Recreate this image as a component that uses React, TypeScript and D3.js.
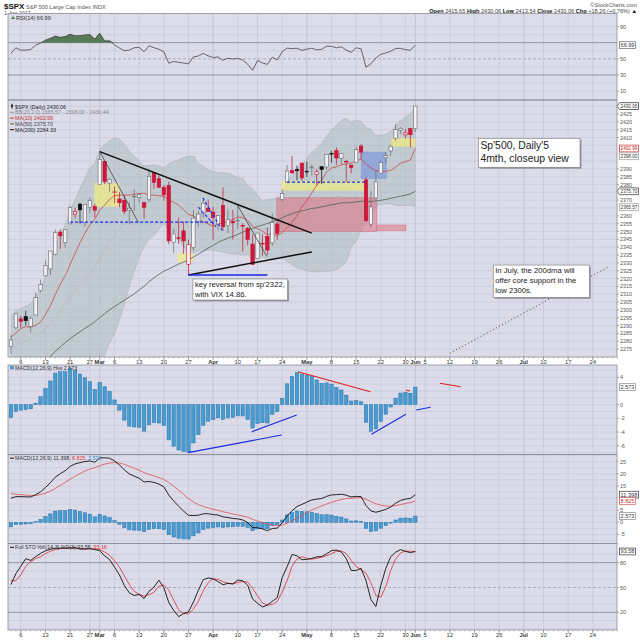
import React from "react";
import * as d3 from "d3";

// ---------------- DATA ----------------
// closes before the visible window (Nov 1 2016 .. Feb 1 2017), used for indicator warm-up
const priorCloses = [
  2111.72, 2097.94, 2088.66, 2085.18, 2131.52, 2139.56, 2163.26, 2167.48, 2164.45, 2164.2, 2180.39, 2176.94,
  2187.12, 2181.9, 2198.18, 2202.94, 2204.72, 2213.35, 2201.72, 2204.66, 2198.81,
  2191.08, 2191.95, 2204.71, 2212.23, 2241.35, 2246.19, 2259.53, 2256.96, 2271.72, 2253.28, 2262.03, 2258.07,
  2262.53, 2270.76, 2265.18, 2260.96, 2263.79, 2268.88, 2249.92, 2249.26, 2238.83,
  2257.83, 2270.75, 2269.0, 2276.98, 2268.9, 2268.9, 2275.32, 2270.44, 2274.64, 2267.89, 2271.89, 2263.69,
  2271.31, 2265.2, 2280.07, 2298.37, 2296.68, 2294.69, 2280.9, 2278.87,
  2279.55,
];
// highs / lows Jan 9 .. Feb 1 (stochastic warm-up)
const priorHighs = [2275.49, 2279.27, 2275.32, 2271.78, 2278.68, 2272.08, 2272.01, 2274.33, 2276.96, 2271.78, 2284.63, 2299.55, 2300.99, 2299.02, 2286.01, 2279.09, 2289.14];
const priorLows = [2268.9, 2265.27, 2260.83, 2254.25, 2271.51, 2262.81, 2263.35, 2258.41, 2265.01, 2257.02, 2266.68, 2288.88, 2294.08, 2291.62, 2268.04, 2267.21, 2272.44];

// visible sessions Feb 2 .. Jun 1 2017
const opens = [
  2276.69, 2288.54, 2294.28, 2295.87, 2289.55, 2296.7, 2312.27,
  2321.72, 2326.12, 2335.58, 2349.64, 2343.01,
  2354.91, 2361.11, 2367.5, 2355.73,
  2365.23, 2366.08, 2380.13, 2394.75, 2380.92,
  2375.23, 2370.74, 2369.81, 2363.49, 2372.52,
  2371.56, 2368.55, 2370.34, 2387.71, 2383.71,
  2378.24, 2379.32, 2343.0, 2345.97, 2350.42,
  2329.11, 2339.79, 2356.54, 2361.31, 2364.82,
  2362.34, 2354.76, 2366.59, 2353.79, 2356.59,
  2357.16, 2353.92, 2352.15, 2341.98,
  2332.62, 2342.53, 2346.79, 2342.69, 2354.74,
  2370.33, 2381.51, 2388.98, 2389.7, 2393.68,
  2388.5, 2391.05, 2386.5, 2391.36, 2391.19,
  2399.94, 2401.58, 2396.79, 2394.84, 2392.44,
  2393.98, 2404.55, 2382.95, 2354.69, 2371.37,
  2387.21, 2397.04, 2401.41, 2409.54, 2414.5,
  2411.67, 2415.63, 2415.65,
];
const highs = [
  2283.97, 2298.31, 2296.18, 2299.4, 2295.91, 2311.08, 2319.23,
  2331.58, 2337.58, 2351.3, 2351.31, 2351.16,
  2366.71, 2365.13, 2368.26, 2367.34,
  2371.54, 2367.79, 2400.98, 2394.75, 2383.89,
  2378.8, 2375.12, 2373.09, 2369.08, 2376.86,
  2374.42, 2368.55, 2390.01, 2388.1, 2385.71,
  2379.55, 2381.93, 2351.81, 2358.92, 2356.22,
  2344.9, 2363.78, 2363.36, 2370.42, 2370.35,
  2365.87, 2360.53, 2378.36, 2364.16, 2363.76,
  2366.37, 2355.22, 2352.72, 2348.26,
  2349.14, 2348.35, 2352.63, 2361.37, 2356.18,
  2376.98, 2392.48, 2398.16, 2392.1, 2393.68,
  2394.49, 2392.93, 2389.82, 2391.43, 2399.29,
  2401.36, 2403.87, 2399.74, 2395.72, 2392.44,
  2404.05, 2405.77, 2384.87, 2375.74, 2389.06,
  2395.46, 2400.85, 2405.58, 2418.71, 2416.68,
  2415.26, 2415.99, 2430.06,
];
const lows = [
  2271.65, 2287.88, 2288.57, 2290.16, 2285.38, 2296.61, 2311.1,
  2321.42, 2322.17, 2334.81, 2338.87, 2339.58,
  2354.91, 2358.34, 2355.09, 2352.87,
  2361.87, 2358.96, 2380.13, 2380.17, 2375.39,
  2367.98, 2365.51, 2361.01, 2354.54, 2363.04,
  2368.52, 2358.18, 2368.94, 2377.18, 2377.64,
  2369.66, 2341.9, 2336.45, 2342.13, 2335.74,
  2322.25, 2337.63, 2352.94, 2358.58, 2362.6,
  2344.73, 2350.72, 2350.52, 2348.9, 2344.9,
  2351.5, 2337.25, 2341.18, 2328.95,
  2332.51, 2334.54, 2335.05, 2340.91, 2344.51,
  2369.19, 2381.15, 2386.78, 2382.68, 2382.36,
  2384.83, 2385.82, 2379.75, 2380.35, 2389.51,
  2393.92, 2392.44, 2392.79, 2381.74, 2387.19,
  2393.94, 2396.05, 2356.21, 2352.72, 2370.43,
  2386.92, 2393.88, 2397.99, 2408.01, 2412.2,
  2409.43, 2403.59, 2413.54,
];
const closes = [
  2280.85, 2297.42, 2292.56, 2293.08, 2294.67, 2307.87, 2316.1,
  2328.25, 2337.58, 2349.25, 2347.22, 2351.16,
  2365.38, 2362.82, 2363.81, 2367.34,
  2369.75, 2363.64, 2395.96, 2381.92, 2383.12,
  2375.31, 2368.39, 2362.98, 2364.87, 2372.6,
  2373.47, 2365.45, 2385.26, 2381.38, 2378.25,
  2373.47, 2344.02, 2348.45, 2345.96, 2343.98,
  2341.59, 2358.57, 2361.13, 2368.06, 2362.72,
  2358.84, 2360.16, 2352.95, 2357.49, 2355.54,
  2357.16, 2353.78, 2344.93, 2328.95,
  2349.01, 2342.19, 2338.17, 2355.84, 2348.69,
  2374.15, 2388.61, 2387.45, 2388.77, 2384.2,
  2388.33, 2391.17, 2388.13, 2389.52, 2399.29,
  2399.38, 2396.92, 2399.63, 2394.44, 2390.9,
  2402.32, 2400.67, 2357.03, 2365.72, 2381.73,
  2394.02, 2398.42, 2404.39, 2415.07, 2415.82,
  2412.91, 2411.8, 2430.06,
];
const ma200Last = 2264.33;

// calendar
const firstSession = "2017-02-02";
const sessionCount = 124;
const holidays = ["2017-02-20", "2017-04-14", "2017-05-29", "2017-07-04"];
const tickDates = [
  "2017-02-06", "2017-02-13", "2017-02-21", "2017-02-27", "2017-03-01", "2017-03-06", "2017-03-13", "2017-03-20",
  "2017-03-27", "2017-04-03", "2017-04-10", "2017-04-17", "2017-04-24", "2017-05-01", "2017-05-08", "2017-05-15",
  "2017-05-22", "2017-05-30", "2017-06-01", "2017-06-05", "2017-06-12", "2017-06-19", "2017-06-26", "2017-07-03",
  "2017-07-10", "2017-07-17", "2017-07-24",
];
const monthStarts = ["2017-03-01", "2017-04-03", "2017-05-01", "2017-06-01", "2017-07-03"];
const monthNames = ["Jan", "Feb", "Mar", "Apr", "May", "Jun", "Jul", "Aug"];

// annotations (session index, price)
const boldTrendLines = [
  [18, 2400.98, 61, 2349.0],
  [36, 2322.25, 61, 2337.0],
];
const thinTrendLines = [
  [18, 2400.98, 25.8, 2356.0],
  [45.9, 2367.0, 51.9, 2334.0],
];
const blueSolidLines = [[36, 2322.25, 52, 2322.25]];
const blueDashedLines = [
  [12, 2356.0, 41, 2356.0],
  [56, 2381.5, 72, 2381.5],
  [38.9, 2371.5, 43, 2350.0],
  [38.0, 2365.5, 41.6, 2353.0],
];
const yellowBoxes = [
  [16.9, 22.0, 2380.8, 2365.8],
  [33.8, 37.0, 2336.1, 2330.4],
  [54.9, 72.0, 2382.4, 2376.1],
  [77.1, 82.0, 2409.5, 2404.1],
];
const pinkBoxes = [
  [53.9, 74.2, 2371.6, 2349.9],
  [74.2, 80.1, 2354.2, 2350.5],
];
const blueBoxes = [[71.0, 76.2, 2400.8, 2383.7]];
const projectionLine = [89.0, 2272.3, 121.0, 2327.2];
const noteA = ["Sp'500, Daily'5", "4mth, closeup view"];
const noteB = ["In July, the 200dma will", "offer core support in the", "low 2300s."];
const noteC = ["key reversal from sp'2322,", "with VIX 14.86."];
const noteBoxes = [
  { x0: 94.8, x1: 115.4, p0: 2409.5, p1: 2391.0, lines: noteA, size: 10.4, lh: 12.6 },
  { x0: 97.8, x1: 117.3, p0: 2328.6, p1: 2308.0, lines: noteB, size: 7.7, lh: 9.7 },
  { x0: 36.9, x1: 56.1, p0: 2319.7, p1: 2306.3, lines: noteC, size: 7.7, lh: 9.3 },
];
const histRedLines = [
  [58.2, 4.82, 72.9, 1.9],
  [80.1, 2.15, 80.9, 2.0],
  [87.0, 3.12, 91.2, 2.63],
];
const histBlueLines = [
  [35.9, -7.0, 54.9, -4.42],
  [48.85, -3.94, 57.96, -1.5],
  [73.1, -4.32, 80.1, -1.4],
  [82.2, -0.77, 85.1, -0.38],
];

// ---------------- LAYOUT ----------------
const PL = 8;
const PR = 617;
const FONT = "Liberation Sans, Arial, sans-serif";
const BG = "#DBDBE9";
const GRID = "#C6C6D8";
const panels = {
  rsi: [13.5, 100],
  main: [100, 357],
  hist: [365, 454.5],
  macd: [454.5, 543.5],
  sto: [543.5, 630],
};

// ---------------- INDICATORS ----------------
function emaCalc(src: number[], n: number) {
  const k = 2 / (n + 1);
  const out = new Array(src.length).fill(NaN);
  let prev = d3.mean(src.slice(0, n)) as number;
  out[n - 1] = prev;
  for (let i = n; i < src.length; i++) {
    prev = src[i] * k + prev * (1 - k);
    out[i] = prev;
  }
  return out;
}
function rsiCalc(src: number[], n: number) {
  const out = new Array(src.length).fill(NaN);
  let g = 0, l = 0;
  for (let i = 1; i <= n; i++) {
    const d = src[i] - src[i - 1];
    g += Math.max(d, 0);
    l += Math.max(-d, 0);
  }
  g /= n; l /= n;
  out[n] = 100 - 100 / (1 + g / l);
  for (let i = n + 1; i < src.length; i++) {
    const d = src[i] - src[i - 1];
    g = (g * (n - 1) + Math.max(d, 0)) / n;
    l = (l * (n - 1) + Math.max(-d, 0)) / n;
    out[i] = 100 - 100 / (1 + g / l);
  }
  return out;
}

const allC = [...priorCloses, ...closes];
const OFF = priorCloses.length;
const N = closes.length;
const idx = d3.range(N);
const ma10 = idx.map((i) => d3.mean(allC.slice(OFF + i - 9, OFF + i + 1)) as number);
const ma50 = idx.map((i) => d3.mean(allC.slice(OFF + i - 49, OFF + i + 1)) as number);
const bb = idx.map((i) => {
  const w = allC.slice(OFF + i - 19, OFF + i + 1);
  const m = d3.mean(w) as number;
  const sd = Math.sqrt(d3.mean(w.map((v) => (v - m) ** 2)) as number);
  return { m, up: m + 2 * sd, lo: m - 2 * sd };
});
const e12 = emaCalc(allC, 12);
const e26 = emaCalc(allC, 26);
const macdFull = allC.map((_, i) => e12[i] - e26[i]);
const sigPart = emaCalc(macdFull.slice(25), 9);
const sigFull = [...new Array(25).fill(NaN), ...sigPart];
const macd = idx.map((i) => macdFull[OFF + i]);
const signal = idx.map((i) => sigFull[OFF + i]);
const hist = idx.map((i) => macd[i] - signal[i]);
const rsiFull = rsiCalc(allC, 14);
const rsi = idx.map((i) => rsiFull[OFF + i]);

const HL = priorHighs.length;
const allH = [...priorHighs, ...highs];
const allL = [...priorLows, ...lows];
const allCH = allC.slice(OFF - HL);
const fastK = allH.map((_, j) => {
  if (j < 13) return NaN;
  const hh = d3.max(allH.slice(j - 13, j + 1)) as number;
  const ll = d3.min(allL.slice(j - 13, j + 1)) as number;
  return ((allCH[j] - ll) / (hh - ll)) * 100;
});
const fullK = fastK.map((_, j) => (j < 15 ? NaN : (d3.mean(fastK.slice(j - 2, j + 1)) as number)));
const fullD = fullK.map((_, j) => (j < 17 ? NaN : (d3.mean(fullK.slice(j - 2, j + 1)) as number)));
const stoK = idx.map((i) => fullK[HL + i]);
const stoD = idx.map((i) => fullD[HL + i]);

function buildSessions() {
  const out: string[] = [];
  const [y, m, d] = firstSession.split("-").map(Number);
  const dt = new Date(Date.UTC(y, m - 1, d));
  while (out.length < sessionCount) {
    const s = dt.toISOString().slice(0, 10);
    const wd = dt.getUTCDay();
    if (wd !== 0 && wd !== 6 && !holidays.includes(s)) out.push(s);
    dt.setUTCDate(dt.getUTCDate() + 1);
  }
  return out;
}

const f2 = (v: number) => v.toFixed(2);
const f3 = (v: number) => v.toFixed(3);
const AX_FS = 5.4;
const textW = (t: string, fs: number) =>
  t.split("").reduce((s, c) => s + (c === "." || c === "," ? 0.278 : c === "-" ? 0.333 : 0.556), 0) * fs;

function AxisLabel({ y, text }: { y: number; text: string }) {
  return (
    <g>
      <line x1={PR} x2={PR + 2} y1={y} y2={y} stroke="#777" strokeWidth={0.6} />
      <text x={PR + 3} y={y + 2} fontSize={AX_FS} fill="#555">{text}</text>
    </g>
  );
}
function BoxLabel({ y, text, stroke, color, arrow }: { y: number; text: string; stroke: string; color?: string; arrow?: boolean }) {
  const w = Math.min(textW(text, AX_FS) + 2.4, 638.5 - (PR + 2.5));
  const x0 = PR + 2.5;
  return (
    <g>
      {arrow ? (
        <path d={`M${PR},${y} L${x0},${y - 3.4} L${x0 + w},${y - 3.4} L${x0 + w},${y + 3.4} L${x0},${y + 3.4} Z`} fill="#fff" stroke={stroke} strokeWidth={0.7} />
      ) : (
        <rect x={x0} y={y - 3.4} width={w} height={6.8} fill="#fff" stroke={stroke} strokeWidth={0.7} />
      )}
      <text x={x0 + 1.1} y={y + 1.95} fontSize={AX_FS} fill={color || "#333"} textLength={w - 2.2} lengthAdjust="spacingAndGlyphs">{text}</text>
    </g>
  );
}

export default function App() {
  const sessions = buildSessions();
  const xs = d3.scaleLinear().domain([-0.6, 122.9]).range([PL, PR]);
  const yP = d3.scaleLinear().domain([2425, 2275]).range([114, 349.05]);
  const yR = d3.scaleLinear().domain([70, 30]).range([42.7, 75]);
  const yH = d3.scaleLinear().domain([4, 0]).range([377.3, 404.7]);
  const yM = d3.scaleLinear().domain([25, 0]).range([461.7, 522.3]);
  const yS = d3.scaleLinear().domain([80, 20]).range([562.7, 612.3]);

  const tickIdx = tickDates.map((d) => sessions.indexOf(d));
  const tickLbl = tickDates.map((d) =>
    monthStarts.includes(d) ? monthNames[+d.slice(5, 7) - 1] : String(+d.slice(8, 10))
  );

  const lineOf = (ys: d3.ScaleLinear<number, number>) =>
    d3.line<number>().defined((v) => !isNaN(v)).x((_, i) => xs(i)).y((v) => ys(v));

  const bbArea = d3.area<{ m: number; up: number; lo: number }>().x((_, i) => xs(i)).y0((d) => yP(d.lo)).y1((d) => yP(d.up)).curve(d3.curveMonotoneX);
  const bbUp = d3.line<{ up: number }>().x((_, i) => xs(i)).y((d) => yP(d.up)).curve(d3.curveMonotoneX);
  const bbLo = d3.line<{ lo: number }>().x((_, i) => xs(i)).y((d) => yP(d.lo)).curve(d3.curveMonotoneX);
  const rsiArea = d3.area<number>().x((_, i) => xs(i)).y0(yR(70)).y1((v) => yR(Math.max(v, 70)));

  const last = N - 1;
  const bbLast = bb[last];
  const prevClose = closes[last - 1];
  const chg = closes[last] - prevClose;

  const panelRect = (key: keyof typeof panels) => {
    const [t, b] = panels[key];
    return <rect x={PL} y={t} width={PR - PL} height={b - t} fill={BG} />;
  };
  const vGrid = (key: keyof typeof panels) => {
    const [t, b] = panels[key];
    return tickIdx.map((ti, k) => (
      <line key={"vg" + key + k} x1={xs(ti)} x2={xs(ti)} y1={t} y2={b} stroke={monthStarts.includes(tickDates[k]) ? "#B8B8CC" : GRID} strokeWidth={0.7} />
    ));
  };
  const hGrid = (vals: number[], ys: d3.ScaleLinear<number, number>, key: string) =>
    vals.map((v) => <line key={key + v} x1={PL} x2={PR} y1={ys(v)} y2={ys(v)} stroke={GRID} strokeWidth={0.6} />);

  const xAxis = (yLine: number, yText: number, key: string) => (
    <g key={key}>
      {sessions.map((_, i) => (
        <line key={key + "d" + i} x1={xs(i)} x2={xs(i)} y1={yLine} y2={yLine + 1.5} stroke="#888" strokeWidth={0.5} />
      ))}
      {tickIdx.map((ti, k) => (
        <g key={key + "t" + k}>
          <line x1={xs(ti)} x2={xs(ti)} y1={yLine} y2={yLine + 3} stroke="#666" strokeWidth={0.6} />
          <text x={xs(ti)} y={yText} fontSize={5.8} textAnchor="middle" fill="#333" fontWeight={monthStarts.includes(tickDates[k]) ? "bold" : "normal"}>
            {tickLbl[k]}
          </text>
        </g>
      ))}
    </g>
  );

  const candleColor = (i: number) => {
    const pc = i === 0 ? priorCloses[priorCloses.length - 1] : closes[i - 1];
    return closes[i] >= pc ? "black" : "red";
  };

  const priceBoxes = [
    { v: closes[last], stroke: "#222", arrow: true },
    { v: ma10[last], stroke: "#D03030", color: "#C02020" },
    { v: bbLast.m, stroke: "#999" },
    { v: ma50[last], stroke: "#333", arrow: true },
    { v: bbLast.lo, stroke: "#999" },
  ];
  const priceTicks = d3.range(2275, 2430, 5).filter((v) => priceBoxes.every((b) => Math.abs(yP(v) - yP(b.v)) > 5.5));

  const rsiBoxes = [{ v: rsi[last] }];
  const rsiTicks = [90, 70, 50, 30, 10].filter((v) => rsiBoxes.every((b) => Math.abs(yR(v) - yR(b.v)) > 5.5));
  const histTicks = [4, 2, 0, -2, -4, -6].filter((v) => Math.abs(yH(v) - yH(hist[last])) > 5.5);
  const macdVals = [macd[last], signal[last], hist[last]];
  const macdTicks = [25, 20, 15, 10, 5, 0, -5].filter((v) => macdVals.every((b) => Math.abs(yM(v) - yM(b)) > 5.5));
  const stoTicks = [80, 50, 20].filter((v) => Math.abs(yS(v) - yS(stoK[last])) > 5.5);

  const seg = (a: number[], ys: d3.ScaleLinear<number, number>) => ({ x1: xs(a[0]), y1: ys(a[1]), x2: xs(a[2]), y2: ys(a[3]) });
  const bw = 3.4;

  return (
    <svg width={640} height={640} style={{ position: "fixed", left: 0, top: 0, background: "#fff" }} fontFamily={FONT}>
      <defs>
        {(Object.keys(panels) as (keyof typeof panels)[]).map((k) => (
          <clipPath id={"clip-" + k} key={k}>
            <rect x={PL} y={panels[k][0]} width={PR - PL} height={panels[k][1] - panels[k][0]} />
          </clipPath>
        ))}
      </defs>
      <rect x={0} y={0} width={640} height={640} fill="#fff" />

      {/* header */}
      <text x={4} y={8.5} fontSize={8} fontWeight="bold" fill="#111">$SPX</text>
      <text x={26} y={8.5} fontSize={5.6} fill="#555">{"S&P 500 Large Cap Index INDX"}</text>
      <text x={4} y={15} fontSize={5.3} fill="#555">1-Jun-2017</text>
      <text x={637} y={6.5} fontSize={5.6} fill="#555" textAnchor="end">©StockCharts.com</text>
      <text x={637} y={13} fontSize={5.6} fill="#444" textAnchor="end">
        <tspan fontWeight="bold" fill="#111">Open </tspan>{f2(opens[last])}
        <tspan fontWeight="bold" fill="#111"> High </tspan>{f2(highs[last])}
        <tspan fontWeight="bold" fill="#111"> Low </tspan>{f2(lows[last])}
        <tspan fontWeight="bold" fill="#111"> Close </tspan>{f2(closes[last])}
        <tspan fontWeight="bold" fill="#111"> Chg </tspan>{`+${f2(chg)} (+${((chg / prevClose) * 100).toFixed(2)}%)`}
        <tspan fill="#111"> ▲</tspan>
      </text>

      {/* ---------- RSI panel ---------- */}
      {panelRect("rsi")}
      <g clipPath="url(#clip-rsi)">
        {hGrid([10, 20, 40, 60, 80, 90], yR, "rg")}
        {vGrid("rsi")}
        <line x1={PL} x2={PR} y1={yR(70)} y2={yR(70)} stroke="#8A8A9C" strokeWidth={0.9} />
        <line x1={PL} x2={PR} y1={yR(30)} y2={yR(30)} stroke="#8A8A9C" strokeWidth={0.9} />
        <line x1={PL} x2={PR} y1={yR(50)} y2={yR(50)} stroke="#9A9AAA" strokeWidth={0.7} strokeDasharray="3,2" />
        <path d={rsiArea(rsi) || ""} fill="#557A55" />
        <path d={lineOf(yR)(rsi) || ""} fill="none" stroke="#333" strokeWidth={0.7} />
      </g>
      <path d="M11,19 L13,16 L15,19 Z" fill="#557A55" />
      <text x={16} y={19.5} fontSize={5.6} fill="#333">{`RSI(14) ${f2(rsi[last])}`}</text>
      {rsiTicks.map((v) => <AxisLabel key={"ra" + v} y={yR(v)} text={String(v)} />)}
      <BoxLabel y={yR(rsi[last])} text={f2(rsi[last])} stroke="#666" />

      {/* ---------- Main panel ---------- */}
      {panelRect("main")}
      <g clipPath="url(#clip-main)">
        {hGrid(d3.range(2275, 2435, 5), yP, "pg")}
        {vGrid("main")}
        <path d={bbArea(bb) || ""} fill="#ADBDBD" fillOpacity={0.55} />
        <path d={bbUp(bb) || ""} fill="none" stroke="#A9B4B8" strokeWidth={0.6} />
        <path d={bbLo(bb) || ""} fill="none" stroke="#A9B4B8" strokeWidth={0.6} />
        <path d={lineOf(yP)(bb.map((b) => b.m)) || ""} fill="none" stroke="#A0A8AC" strokeWidth={0.6} strokeDasharray="1,1" />
        {pinkBoxes.map((b, k) => (
          <rect key={"pb" + k} x={xs(b[0])} width={xs(b[1]) - xs(b[0])} y={yP(b[2])} height={yP(b[3]) - yP(b[2])} fill="#E06878" fillOpacity={0.5} stroke="#D05060" strokeWidth={0.5} strokeOpacity={0.6} />
        ))}
        {blueBoxes.map((b, k) => (
          <rect key={"bb" + k} x={xs(b[0])} width={xs(b[1]) - xs(b[0])} y={yP(b[2])} height={yP(b[3]) - yP(b[2])} fill="#6E8CE0" fillOpacity={0.55} stroke="#5070C8" strokeWidth={0.4} strokeOpacity={0.6} strokeDasharray="1,1" />
        ))}
        {yellowBoxes.map((b, k) => (
          <rect key={"yb" + k} x={xs(b[0])} width={xs(b[1]) - xs(b[0])} y={yP(b[2])} height={yP(b[3]) - yP(b[2])} fill="#F2F07A" fillOpacity={0.65} />
        ))}
        <path d={lineOf(yP)(ma50) || ""} fill="none" stroke="#4A6650" strokeWidth={0.8} />
        <path d={lineOf(yP)(ma10) || ""} fill="none" stroke="#D03838" strokeWidth={0.7} />
        {idx.map((i) => {
          const col = candleColor(i);
          const filled = closes[i] < opens[i];
          const stroke = col === "red" ? "#C8102E" : filled ? "#111" : "#6A6A72";
          const fill = filled ? (col === "red" ? "#D0163A" : "#111") : "#F2F2F6";
          const top = yP(Math.max(opens[i], closes[i]));
          const bot = yP(Math.min(opens[i], closes[i]));
          return (
            <g key={"c" + i}>
              <line x1={xs(i)} x2={xs(i)} y1={yP(highs[i])} y2={yP(lows[i])} stroke={stroke} strokeWidth={0.7} />
              <rect x={xs(i) - bw / 2} y={top} width={bw} height={Math.max(bot - top, 0.8)} fill={fill} stroke={stroke} strokeWidth={0.6} />
            </g>
          );
        })}
        {boldTrendLines.map((a, k) => <line key={"bt" + k} {...seg(a, yP)} stroke="#111" strokeWidth={1.5} />)}
        {thinTrendLines.map((a, k) => <line key={"tt" + k} {...seg(a, yP)} stroke="#333" strokeWidth={0.7} />)}
        {blueSolidLines.map((a, k) => <line key={"bs" + k} {...seg(a, yP)} stroke="#1A2BE0" strokeWidth={1.3} />)}
        {blueDashedLines.map((a, k) => <line key={"bd" + k} {...seg(a, yP)} stroke="#1A2BF0" strokeWidth={1.1} strokeDasharray="3,2" />)}
        <line {...seg(projectionLine, yP)} stroke="#333" strokeWidth={0.9} strokeDasharray="1,2.5" />
        {noteBoxes.map((n, k) => {
          const x0 = xs(n.x0), x1 = xs(n.x1), y0 = yP(n.p0), y1 = yP(n.p1);
          return (
            <g key={"nb" + k}>
              <rect x={x0 + 1.5} y={y0 + 1.5} width={x1 - x0} height={y1 - y0} fill="#9A9AA6" />
              <rect x={x0} y={y0} width={x1 - x0} height={y1 - y0} fill="#fff" stroke="#777" strokeWidth={0.6} />
              {n.lines.map((t, j) => (
                <text key={j} x={x0 + 2} y={y0 + n.size + 0.5 + j * n.lh} fontSize={n.size} fill="#222">{t}</text>
              ))}
            </g>
          );
        })}
      </g>
      {/* legend */}
      <g fontSize={5.3}>
        <line x1={12} x2={12} y1={103.5} y2={109} stroke="#333" strokeWidth={0.6} />
        <rect x={11} y={104.5} width={2} height={3} fill="#333" />
        <text x={15} y={108.5} fill="#222">{`$SPX (Daily) ${f2(closes[last])}`}</text>
        <line x1={10} x2={14} y1={112.3} y2={112.3} stroke="#999" strokeWidth={1} />
        <text x={15} y={114.3} fill="#888">{`BB(20,2.0) ${f2(bbLast.lo)} - ${f2(bbLast.m)} - ${f2(bbLast.up)}`}</text>
        <line x1={10} x2={14} y1={118.1} y2={118.1} stroke="#D03838" strokeWidth={1} />
        <text x={15} y={120.1} fill="#C03030">{`MA(10) ${f2(ma10[last])}`}</text>
        <line x1={10} x2={14} y1={123.9} y2={123.9} stroke="#4A6650" strokeWidth={1} />
        <text x={15} y={125.9} fill="#444">{`MA(50) ${f2(ma50[last])}`}</text>
        <line x1={10} x2={14} y1={129.7} y2={129.7} stroke="#111" strokeWidth={1} />
        <text x={15} y={131.7} fill="#222">{`MA(200) ${f2(ma200Last)}`}</text>
      </g>
      {priceTicks.map((v) => <AxisLabel key={"pa" + v} y={yP(v)} text={String(v)} />)}
      {priceBoxes.map((b, k) => <BoxLabel key={"pbx" + k} y={yP(b.v)} text={f2(b.v)} stroke={b.stroke} color={b.color} arrow={b.arrow} />)}
      {xAxis(panels.main[1], 363.5, "xa1")}

      {/* ---------- MACD histogram panel ---------- */}
      {panelRect("hist")}
      <g clipPath="url(#clip-hist)">
        {hGrid(d3.range(-7, 6, 1), yH, "hg")}
        {vGrid("hist")}
        {idx.map((i) => (
          <rect key={"h" + i} x={xs(i) - bw / 2} width={bw} y={Math.min(yH(0), yH(hist[i]))} height={Math.abs(yH(hist[i]) - yH(0))} fill="#4A9BD0" stroke="#2474AC" strokeWidth={0.5} />
        ))}
        {histRedLines.map((a, k) => <line key={"hr" + k} {...seg(a, yH)} stroke="#E02020" strokeWidth={1.1} />)}
        {histBlueLines.map((a, k) => <line key={"hb" + k} {...seg(a, yH)} stroke="#1A2BE0" strokeWidth={1.1} />)}
      </g>
      <rect x={10} y={365.8} width={4} height={3.5} fill="#4A9BD0" />
      <text x={15} y={369.6} fontSize={5.3} fill="#333">{`MACD(12,26,9) Hist ${f3(hist[last])}`}</text>
      {histTicks.map((v) => <AxisLabel key={"ha" + v} y={yH(v)} text={String(v)} />)}
      <BoxLabel y={yH(hist[last])} text={f3(hist[last])} stroke="#888" />

      {/* ---------- MACD panel ---------- */}
      {panelRect("macd")}
      <g clipPath="url(#clip-macd)">
        {hGrid(d3.range(-7.5, 30, 2.5), yM, "mg")}
        {vGrid("macd")}
        {idx.map((i) => (
          <rect key={"mh" + i} x={xs(i) - bw / 2} width={bw} y={Math.min(yM(0), yM(hist[i]))} height={Math.abs(yM(hist[i]) - yM(0))} fill="#4A9BD0" stroke="#2474AC" strokeWidth={0.5} />
        ))}
        <path d={lineOf(yM)(signal) || ""} fill="none" stroke="#E05050" strokeWidth={0.8} />
        <path d={lineOf(yM)(macd) || ""} fill="none" stroke="#111" strokeWidth={0.9} />
      </g>
      <line x1={10} x2={14} y1={458.2} y2={458.2} stroke="#111" strokeWidth={1} />
      <text x={15} y={460.2} fontSize={5.3} fill="#333">
        {`MACD(12,26,9) ${f3(macd[last])}, `}
        <tspan fill="#E04040">{`${f3(signal[last])}, `}</tspan>
        <tspan fill="#3A8AC8">{f3(hist[last])}</tspan>
      </text>
      {macdTicks.map((v) => <AxisLabel key={"ma" + v} y={yM(v)} text={String(v)} />)}
      <BoxLabel y={yM(macd[last])} text={f3(macd[last])} stroke="#333" />
      <BoxLabel y={yM(signal[last])} text={f3(signal[last])} stroke="#E05050" color="#C03030" />
      <BoxLabel y={yM(hist[last])} text={f3(hist[last])} stroke="#888" />

      {/* ---------- Full STO panel ---------- */}
      {panelRect("sto")}
      <g clipPath="url(#clip-sto)">
        {hGrid([0, 10, 30, 40, 60, 70, 90], yS, "sg")}
        {vGrid("sto")}
        <line x1={PL} x2={PR} y1={yS(80)} y2={yS(80)} stroke="#8A8A9C" strokeWidth={0.9} />
        <line x1={PL} x2={PR} y1={yS(20)} y2={yS(20)} stroke="#8A8A9C" strokeWidth={0.9} />
        <line x1={PL} x2={PR} y1={yS(50)} y2={yS(50)} stroke="#9A9AAA" strokeWidth={0.7} strokeDasharray="3,2" />
        <path d={lineOf(yS)(stoD) || ""} fill="none" stroke="#E03030" strokeWidth={0.8} />
        <path d={lineOf(yS)(stoK) || ""} fill="none" stroke="#111" strokeWidth={0.9} />
      </g>
      <line x1={10} x2={14} y1={547.3} y2={547.3} stroke="#111" strokeWidth={1} />
      <text x={15} y={549.3} fontSize={5.3} fill="#333">
        {`Full STO %K(14,3) %D(3) ${f2(stoK[last])}, `}
        <tspan fill="#E03030">{f2(stoD[last])}</tspan>
      </text>
      {stoTicks.map((v) => <AxisLabel key={"sa" + v} y={yS(v)} text={String(v)} />)}
      <BoxLabel y={yS(stoK[last])} text={f2(stoK[last])} stroke="#333" />
      {xAxis(panels.sto[1], 636.5, "xa2")}

      {/* panel borders */}
      {(Object.keys(panels) as (keyof typeof panels)[]).map((k) => (
        <rect key={"b" + k} x={PL} y={panels[k][0]} width={PR - PL} height={panels[k][1] - panels[k][0]} fill="none" stroke="#8C8C9C" strokeWidth={0.8} />
      ))}
    </svg>
  );
}
